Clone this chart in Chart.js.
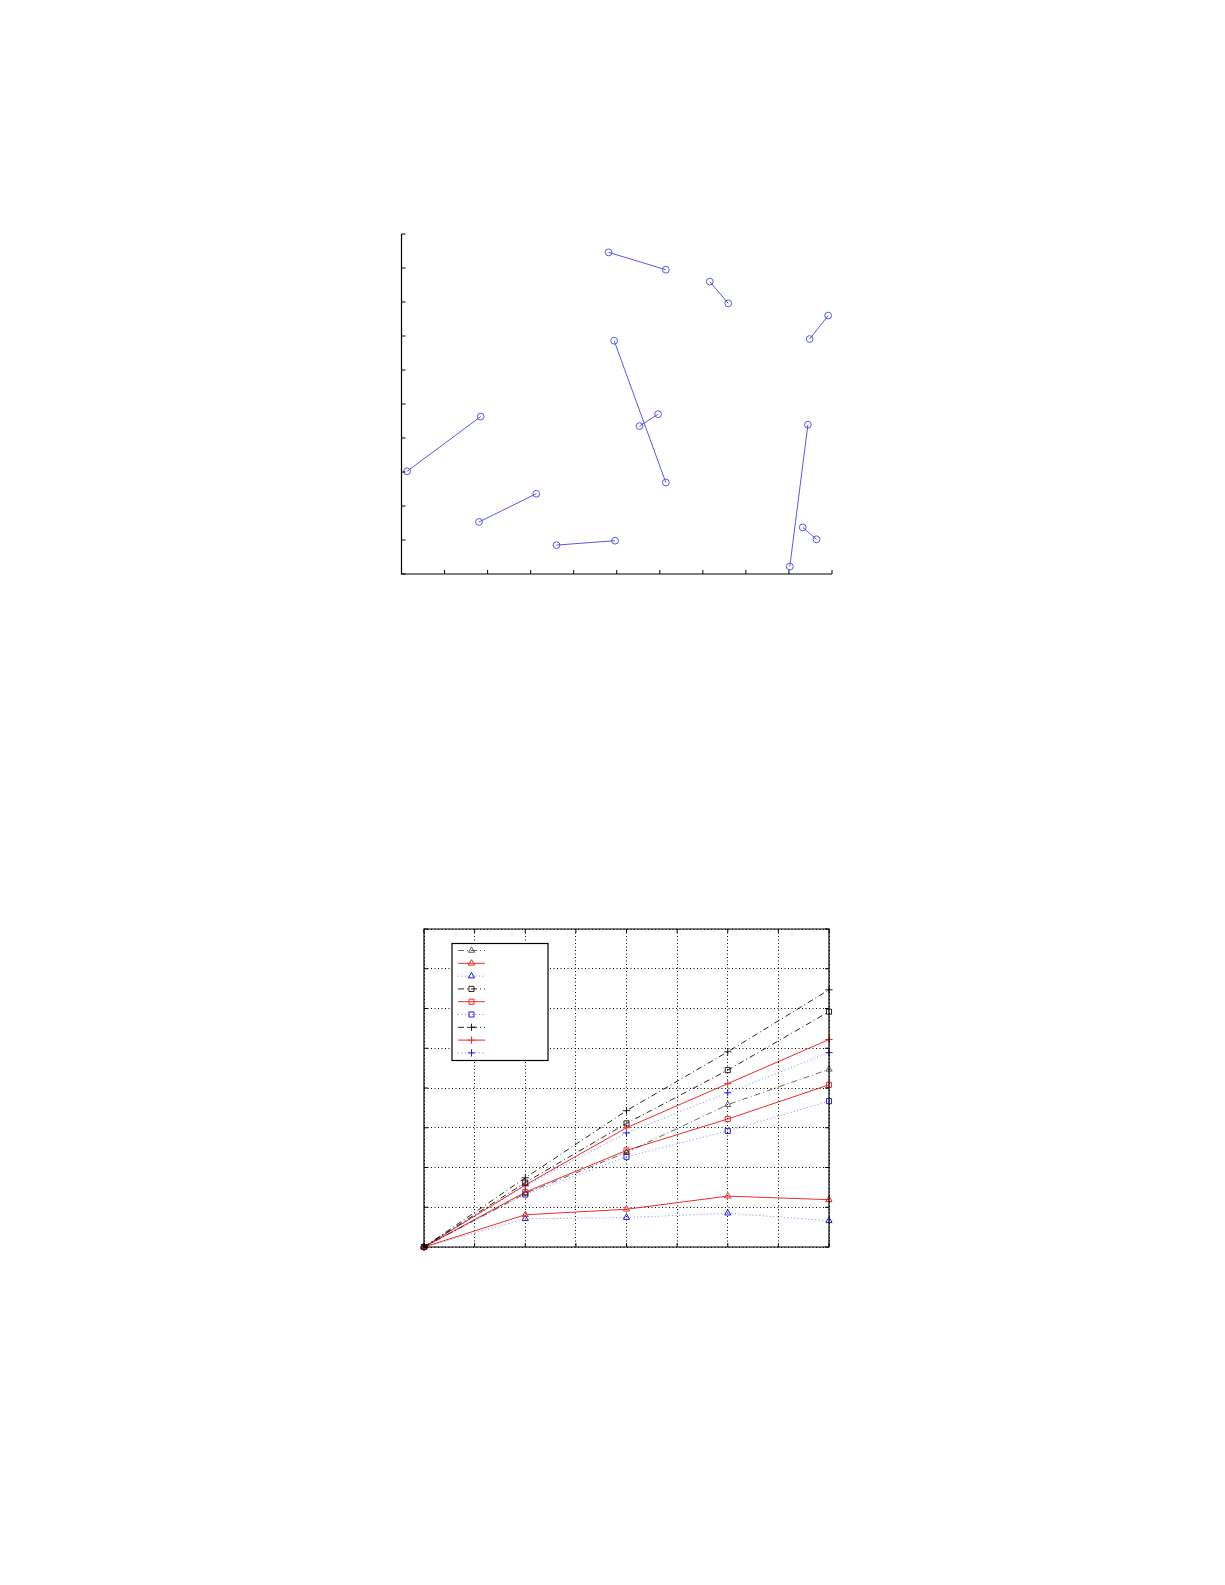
<!DOCTYPE html>
<html>
<head>
<meta charset="utf-8">
<script src="https://cdn.jsdelivr.net/npm/chart.js@4.4.1/dist/chart.umd.min.js"></script>
<style>
  html, body { margin: 0; padding: 0; background: #fff; }
  body { width: 1225px; height: 1585px; position: relative; overflow: hidden; }
  canvas { position: absolute; left: 0; }
  #segChart { top: 0; }
  #growthChart { top: 780px; }
</style>
</head>
<body>
<canvas id="segChart" width="1225" height="780"></canvas>
<canvas id="growthChart" width="1225" height="805"></canvas>
<script>
// top chart: ten line segments, start and end of each
const segStartX = [0.13, 1.80, 3.60, 4.81, 4.94, 5.53, 7.16, 9.48, 9.02, 9.32];
const segStartY = [3.02, 1.53, 0.85, 9.46, 6.86, 4.35, 8.60, 6.91, 0.22, 1.37];
const segEndX   = [1.84, 3.13, 4.96, 6.14, 6.14, 5.96, 7.59, 9.91, 9.44, 9.64];
const segEndY   = [4.63, 2.36, 0.98, 8.95, 2.69, 4.70, 7.96, 7.60, 4.39, 1.02];

// bottom chart: nine series sampled at the same x
const xValues    = [0, 2, 4, 6, 8];
const triBlack   = [0, 1.35, 2.38, 3.58, 4.47];
const triRed     = [0, 0.81, 0.95, 1.28, 1.19];
const triBlue    = [0, 0.71, 0.74, 0.85, 0.66];
const sqBlack    = [0, 1.62, 3.11, 4.45, 5.92];
const sqRed      = [0, 1.38, 2.43, 3.22, 4.08];
const sqBlue     = [0, 1.32, 2.27, 2.92, 3.67];
const plusBlack  = [0, 1.74, 3.43, 4.91, 6.47];
const plusRed    = [0, 1.56, 3.00, 4.11, 5.22];
const plusBlue   = [0, 1.54, 2.87, 3.88, 4.89];

const BLUE = "rgb(70,70,225)";
const RED = "rgb(232,45,45)";
const BLACK = "rgba(0,0,0,0.85)";

// inward (matlab style) ticks and frame
const inwardTicks = {
    id: "inwardTicks",
    afterDraw(chart, args, opts) {
        const c = chart.ctx;
        const a = chart.chartArea;
        const len = opts.len || 4;
        const xs = chart.scales.x;
        const ys = chart.scales.y;
        c.save();
        c.strokeStyle = "#000";
        c.lineWidth = 1.2;
        c.setLineDash([]);
        c.beginPath();
        if (opts.box) {
            c.rect(a.left, a.top, a.right - a.left, a.bottom - a.top);
        } else {
            c.moveTo(a.left, a.top);
            c.lineTo(a.left, a.bottom);
            c.lineTo(a.right, a.bottom);
        }
        c.stroke();
        c.lineWidth = 1;
        c.beginPath();
        xs.ticks.forEach(t => {
            const px = xs.getPixelForValue(t.value);
            c.moveTo(px, a.bottom);
            c.lineTo(px, a.bottom - len);
            if (opts.box) {
                c.moveTo(px, a.top);
                c.lineTo(px, a.top + len);
            }
        });
        ys.ticks.forEach(t => {
            const py = ys.getPixelForValue(t.value);
            c.moveTo(a.left, py);
            c.lineTo(a.left + len, py);
            if (opts.box) {
                c.moveTo(a.right, py);
                c.lineTo(a.right - len, py);
            }
        });
        c.stroke();
        c.restore();
    }
};

function drawMarker(c, style, x, y, r) {
    c.beginPath();
    if (style === "triangle") {
        c.moveTo(x, y - r);
        c.lineTo(x + r * 0.87, y + r * 0.5);
        c.lineTo(x - r * 0.87, y + r * 0.5);
        c.closePath();
    } else if (style === "rect") {
        const s = r * Math.SQRT1_2;
        c.rect(x - s, y - s, 2 * s, 2 * s);
    } else {
        c.moveTo(x - r, y);
        c.lineTo(x + r, y);
        c.moveTo(x, y - r);
        c.lineTo(x, y + r);
    }
    c.stroke();
}

// boxed legend without labels, inside the plot area
const boxLegend = {
    id: "boxLegend",
    afterDraw(chart) {
        const c = chart.ctx;
        const a = chart.chartArea;
        const bx = a.left + 28, by = a.top + 14.5, bw = 96, bh = 117;
        c.save();
        c.fillStyle = "#fff";
        c.fillRect(bx, by, bw, bh);
        c.strokeStyle = "#000";
        c.lineWidth = 1.2;
        c.strokeRect(bx, by, bw, bh);
        chart.data.datasets.forEach((ds, i) => {
            const y = by + 7 + i * 12.8;
            c.strokeStyle = ds.borderColor;
            c.lineWidth = ds.borderWidth;
            c.setLineDash(ds.borderDash || []);
            c.beginPath();
            c.moveTo(bx + 6, y);
            c.lineTo(bx + 33, y);
            c.stroke();
            c.setLineDash([]);
            c.strokeStyle = ds.pointBorderColor;
            c.lineWidth = 1;
            drawMarker(c, ds.pointStyle, bx + 19.5, y, ds.pointRadius);
        });
        c.restore();
    }
};

const segDatasets = segStartX.map((x0, i) => ({
    data: [{ x: x0, y: segStartY[i] }, { x: segEndX[i], y: segEndY[i] }],
    borderColor: BLUE,
    borderWidth: 0.9,
    pointStyle: "circle",
    pointRadius: 3.4,
    pointBorderWidth: 0.9,
    pointBorderColor: BLUE,
    pointBackgroundColor: "rgba(0,0,0,0)",
    showLine: true,
    clip: false,
}));

new Chart(document.getElementById("segChart"), {
    type: "scatter",
    data: { datasets: segDatasets },
    options: {
        responsive: false,
        animation: false,
        layout: { padding: { left: 401.5, right: 393, top: 234, bottom: 206 } },
        plugins: { legend: { display: false }, tooltip: { enabled: false }, inwardTicks: { box: false, len: 4 } },
        scales: {
            x: {
                min: 0, max: 10,
                ticks: { display: false, stepSize: 1 },
                grid: { display: false, drawTicks: false },
                border: { display: false },
            },
            y: {
                min: 0, max: 10,
                ticks: { display: false, stepSize: 1 },
                grid: { display: false, drawTicks: false },
                border: { display: false },
            },
        },
    },
    plugins: [inwardTicks],
});

function series(values, color, dash, style, width) {
    return {
        data: xValues.map((x, i) => ({ x: x, y: values[i] })),
        borderColor: color,
        borderWidth: width,
        borderDash: dash,
        pointStyle: style,
        pointRadius: 3.6,
        pointBorderWidth: 1,
        pointBorderColor: color,
        pointBackgroundColor: "rgba(0,0,0,0)",
        tension: 0,
        clip: false,
    };
}

const DASHDOT = [6, 3, 1, 3];
const DOT = [1, 2.5];
const BLUE_LINE = "rgba(90,90,225,0.75)";

const growthDatasets = [
    series(triBlack, "rgba(0,0,0,0.6)", DASHDOT, "triangle", 1),
    series(triRed, RED, [], "triangle", 1),
    series(triBlue, BLUE_LINE, DOT, "triangle", 1),
    series(sqBlack, BLACK, DASHDOT, "rect", 1),
    series(sqRed, RED, [], "rect", 1),
    series(sqBlue, BLUE_LINE, DOT, "rect", 1),
    series(plusBlack, BLACK, DASHDOT, "cross", 1),
    series(plusRed, RED, [], "cross", 1),
    series(plusBlue, BLUE_LINE, DOT, "cross", 1),
];
// markers of the dotted series are a stronger blue than their lines
[2, 5, 8].forEach(i => { growthDatasets[i].pointBorderColor = "rgb(30,30,210)"; });

new Chart(document.getElementById("growthChart"), {
    type: "line",
    data: { datasets: growthDatasets },
    options: {
        responsive: false,
        animation: false,
        layout: { padding: { left: 424, right: 396, top: 149, bottom: 338 } },
        plugins: { legend: { display: false }, tooltip: { enabled: false }, inwardTicks: { box: true, len: 4 } },
        scales: {
            x: {
                type: "linear",
                min: 0, max: 8,
                ticks: { display: false, stepSize: 1 },
                grid: { color: "#000", lineWidth: 1, drawTicks: false },
                border: { display: false, dash: [1, 2.5] },
            },
            y: {
                min: 0, max: 8,
                ticks: { display: false, stepSize: 1 },
                grid: { color: "#000", lineWidth: 1, drawTicks: false },
                border: { display: false, dash: [1, 2.5] },
            },
        },
    },
    plugins: [inwardTicks, boxLegend],
});
</script>
</body>
</html>
